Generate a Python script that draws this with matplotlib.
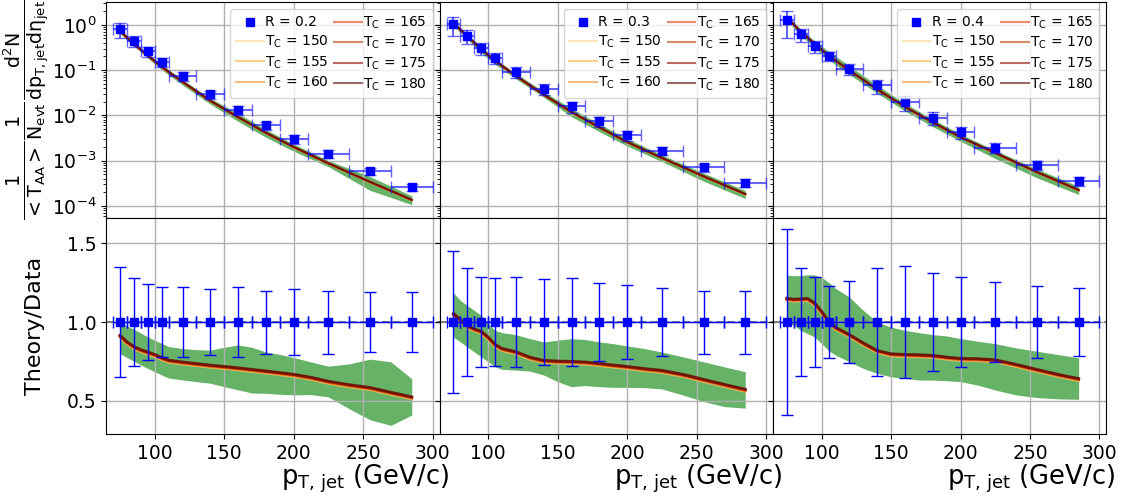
import matplotlib.pyplot as plt
import numpy as np

plt.rcParams['mathtext.default'] = 'regular'

# jet pT bins (GeV/c)
bin_edges = np.array([70, 80, 90, 100, 110, 130, 150, 170, 190, 210, 240, 270, 300])
pt = (bin_edges[:-1] + bin_edges[1:]) / 2
pt_err = (bin_edges[1:] - bin_edges[:-1]) / 2

radii = ['0.2', '0.3', '0.4']

# measured spectra and relative uncertainties
spec_r02 = [0.80, 0.45, 0.26, 0.153, 0.074, 0.029, 0.0129, 0.0060, 0.0030, 0.0014, 5.8e-4, 2.6e-4]
spec_r03 = [1.04, 0.57, 0.31, 0.188, 0.092, 0.038, 0.0158, 0.0074, 0.0036, 0.00166, 7.1e-4, 3.2e-4]
spec_r04 = [1.25, 0.62, 0.34, 0.208, 0.107, 0.046, 0.0195, 0.0089, 0.0043, 0.00195, 8.0e-4, 3.5e-4]

relerr_r02 = [0.35, 0.28, 0.24, 0.22, 0.22, 0.21, 0.22, 0.20, 0.21, 0.20, 0.19, 0.19]
relerr_r03 = [0.45, 0.345, 0.286, 0.28, 0.288, 0.27, 0.28, 0.25, 0.235, 0.216, 0.20, 0.20]
relerr_r04 = [0.59, 0.34, 0.283, 0.227, 0.26, 0.34, 0.357, 0.313, 0.283, 0.254, 0.23, 0.217]

# theory / data, on a finer pT grid (every other point is a bin centre)
pt_th = [75, 80, 85, 90, 95, 100, 105, 110, 120, 130, 140, 150, 160, 170, 180, 190,
         200, 212.5, 225, 240, 255, 270, 285]

ratio_r02 = [0.912, 0.87, 0.84, 0.82, 0.805, 0.79, 0.77, 0.754, 0.742, 0.732, 0.722, 0.714,
             0.705, 0.695, 0.685, 0.675, 0.664, 0.645, 0.62, 0.598, 0.58, 0.55, 0.521]
ratio_hi_r02 = [1.0, 0.975, 0.955, 0.93, 0.905, 0.885, 0.865, 0.845, 0.832, 0.825, 0.822, 0.84,
                0.855, 0.84, 0.81, 0.795, 0.775, 0.747, 0.72, 0.735, 0.765, 0.748, 0.64]
ratio_lo_r02 = [0.80, 0.775, 0.752, 0.728, 0.706, 0.685, 0.664, 0.645, 0.633, 0.622, 0.612, 0.59,
                0.57, 0.55, 0.548, 0.542, 0.538, 0.54, 0.525, 0.45, 0.38, 0.345, 0.41]

ratio_r03 = [1.05, 1.01, 0.973, 0.952, 0.937, 0.90, 0.853, 0.828, 0.807, 0.773, 0.752, 0.748,
             0.746, 0.742, 0.733, 0.723, 0.714, 0.70, 0.689, 0.664, 0.632, 0.60, 0.569]
ratio_hi_r03 = [1.185, 1.137, 1.105, 1.074, 1.042, 0.99, 0.947, 0.933, 0.92, 0.895, 0.874, 0.885,
                0.895, 0.889, 0.874, 0.863, 0.849, 0.832, 0.81, 0.78, 0.748, 0.716, 0.685]
ratio_lo_r03 = [0.905, 0.874, 0.842, 0.81, 0.78, 0.748, 0.716, 0.70, 0.695, 0.689, 0.664, 0.622,
                0.59, 0.597, 0.59, 0.586, 0.586, 0.584, 0.576, 0.538, 0.496, 0.464, 0.454]

ratio_r04 = [1.147, 1.140, 1.143, 1.145, 1.116, 1.063, 1.004, 0.962, 0.916, 0.863, 0.815, 0.794,
             0.79, 0.788, 0.784, 0.773, 0.765, 0.763, 0.756, 0.727, 0.695, 0.664, 0.637]
ratio_hi_r04 = [1.298, 1.294, 1.294, 1.30, 1.298, 1.284, 1.252, 1.214, 1.158, 1.074, 1.0, 0.968,
                0.947, 0.933, 0.92, 0.912, 0.895, 0.878, 0.863, 0.836, 0.815, 0.794, 0.773]
ratio_lo_r04 = [1.0, 0.98, 0.947, 0.926, 0.905, 0.863, 0.82, 0.79, 0.748, 0.706, 0.674, 0.653,
                0.643, 0.632, 0.632, 0.628, 0.622, 0.60, 0.569, 0.538, 0.521, 0.513, 0.51]

# hadronization temperatures and their small spread around the central curve
tc_values = [150, 155, 160, 165, 170, 175, 180]
tc_shift = [-0.009, -0.007, -0.005, -0.002, 0.001, 0.003, 0.005]
tc_colors = ['#f8d784', '#fab444', '#f38f2b', '#e63c00', '#c03e00', '#890800', '#580800']

spectra = [spec_r02, spec_r03, spec_r04]
relerrs = [relerr_r02, relerr_r03, relerr_r04]
ratios = [ratio_r02, ratio_r03, ratio_r04]
ratios_hi = [ratio_hi_r02, ratio_hi_r03, ratio_hi_r04]
ratios_lo = [ratio_lo_r02, ratio_lo_r03, ratio_lo_r04]

fig, axes = plt.subplots(2, 3, figsize=(11.29, 5.0), dpi=100, sharex=True, sharey='row',
                         gridspec_kw=dict(hspace=0, wspace=0))
fig.subplots_adjust(left=0.094, right=0.98, top=0.996, bottom=0.132)

for i in range(3):
    top = axes[0, i]
    bot = axes[1, i]
    spec = np.array(spectra[i])
    rel = np.array(relerrs[i])
    c = np.array(ratios[i])
    hi = np.array(ratios_hi[i])
    lo = np.array(ratios_lo[i])

    # spectrum panel
    top.fill_between(pt, spec * lo[::2], spec * hi[::2], color='green', alpha=0.6, lw=0)
    handles = []
    for k in range(len(tc_values)):
        ln, = top.plot(pt, spec * (c[::2] + tc_shift[k]), color=tc_colors[k], alpha=0.6, lw=1.5,
                       label=r'$T_C$ = %d' % tc_values[k])
        handles.append(ln)
    top.errorbar(pt, spec, xerr=pt_err, yerr=spec * rel, fmt='none', ecolor='blue',
                 elinewidth=1.5, capsize=4, alpha=0.6)
    pts, = top.plot(pt, spec, 's', color='blue', ms=5.5, label='R = ' + radii[i])
    top.set_yscale('log')
    top.set_ylim(5.4e-5, 3.2)
    top.grid(True, color='#b0b0b0', lw=1)
    top.legend([pts] + handles, [h.get_label() for h in [pts] + handles], loc='upper right',
               ncol=2, fontsize=10, handlelength=2.0, handletextpad=0.1, columnspacing=0.4,
               labelspacing=0.3)

    # ratio panel
    bot.fill_between(pt_th, lo, hi, color='green', alpha=0.6, lw=0)
    for k in range(len(tc_values)):
        bot.plot(pt_th, c + tc_shift[k], color=tc_colors[k], alpha=0.6, lw=2)
    bot.axhline(1.0, color='grey', ls='--', lw=1.5)
    bot.errorbar(pt, np.ones(len(pt)), xerr=pt_err, yerr=rel, fmt='s', color='blue', ms=5.5,
                 elinewidth=1, capsize=4)
    bot.set_ylim(0.29, 1.66)
    bot.set_yticks([0.5, 1.0, 1.5])
    bot.set_xlim(65, 305)
    bot.set_xticks([100, 150, 200, 250, 300])
    bot.grid(True, color='#b0b0b0', lw=1)
    bot.set_xlabel(r'$p_{T,\,jet}$ (GeV/c)', fontsize=18.5, loc='right')
    bot.xaxis.set_label_coords(1.027, -0.135)

    for ax in (top, bot):
        ax.tick_params(labelsize=13.5)

axes[0, 0].set_ylabel(r'$\frac{1}{<T_{AA}>}\frac{1}{N_{evt}}\frac{d^2N}{dp_{T,jet}d\eta_{jet}}$',
                      fontsize=19.5)
axes[0, 0].yaxis.set_label_coords(-0.165, 0.5)
axes[1, 0].set_ylabel('Theory/Data', fontsize=16)
axes[1, 0].yaxis.set_label_coords(-0.183, 0.5)

fig.savefig('out.png', dpi=100)
